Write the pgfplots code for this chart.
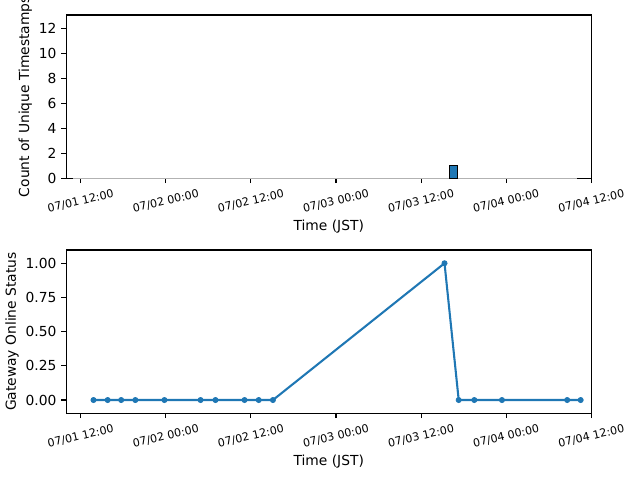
\documentclass[border=0pt]{standalone}
\usepackage{fontspec}
\setmainfont{DejaVu Sans}
\usepackage{pgfplots}
\pgfplotsset{compat=1.18}
\definecolor{tabblue}{HTML}{1F77B4}
\pgfplotsset{
  myaxis/.style={
    scale only axis,
    width=5.251in, height=1.633in,
    anchor=south west,
    xmin=9.95, xmax=84,
    tick align=outside,
    xtick pos=bottom, ytick pos=left,
    major tick length=3.5pt,
    tick style={black, line width=0.8pt},
    axis line style={line width=0.8pt},
    xtick={12,24,36,48,60,72,84},
    xticklabels={07/01 12:00,07/02 00:00,07/02 12:00,07/03 00:00,07/03 12:00,07/04 00:00,07/04 12:00},
    xticklabel style={font=\fontsize{8}{9.6}\selectfont, anchor=center, yshift=-13pt, rotate=13},
    yticklabel style={font=\fontsize{10}{12}\selectfont},
    /pgf/number format/assume math mode=true,
    label style={font=\fontsize{10}{12}\selectfont},
    xlabel={Time (JST)},
    xlabel style={at={(axis description cs:0.5,-0.295)}, anchor=center},
    clip=false,
  }
}
\begin{document}
\begin{tikzpicture}
\path[use as bounding box] (0,0) rectangle (6.4in,4.8in);
\begin{axis}[myaxis, at={(0.662in,3.017in)},
  ymin=0, ymax=13.06,
  ytick={0,2,4,6,8,10,12},
  ylabel={Count of Unique Timestamps},
  ylabel style={at={(axis description cs:-0.078,0.5)}, anchor=center},
]
\addplot[gray!60, line width=0.8pt] coordinates {(10.93,0) (82.0,0)};
\addplot[fill=tabblue, draw=black, line width=0.8pt] coordinates {(64.05,0) (64.05,1) (65.09,1) (65.09,0)} -- cycle;
\end{axis}
\begin{axis}[myaxis, at={(0.662in,0.667in)},
  ymin=-0.097, ymax=1.097,
  ytick={0,0.25,0.5,0.75,1},
  yticklabel style={/pgf/number format/.cd, fixed, fixed zerofill, precision=2},
  ylabel={Gateway Online Status},
  ylabel style={at={(axis description cs:-0.103,0.5)}, anchor=center},
]
\addplot[tabblue, line width=1.5pt, mark=*, mark size=1.9pt, mark options={fill=tabblue, draw=tabblue, line width=0.5pt}] coordinates {
(13.8,0) (15.8,0) (17.7,0) (19.7,0) (23.8,0) (28.9,0) (31.0,0) (35.1,0) (37.1,0) (39.1,0)
(63.3,1) (65.3,0) (67.5,0) (71.4,0) (80.6,0) (82.5,0)
};
\end{axis}
\end{tikzpicture}
\end{document}
